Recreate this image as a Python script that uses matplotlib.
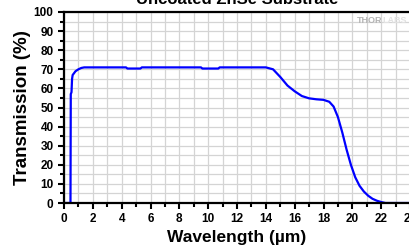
import matplotlib
matplotlib.use('Agg')
import matplotlib.pyplot as plt
from matplotlib.ticker import MultipleLocator

plt.rcParams['font.family'] = ['Liberation Sans', 'DejaVu Sans']

# Transmission of uncoated ZnSe
wavelength = [0, 0.45, 0.47, 0.52, 0.56, 0.6, 0.7, 0.8, 1.0, 1.2, 1.4, 2.0,
              4.3, 4.4, 5.3, 5.4, 9.5, 9.6, 10.7, 10.8, 14.0, 14.5, 15.0,
              15.5, 16.0, 16.5, 17.0, 17.5, 18.0, 18.4, 18.7, 19.0, 19.3,
              19.6, 19.9, 20.2, 20.5, 20.8, 21.1, 21.4, 21.7, 22.0, 22.3, 24.0]
transmission = [0, 0, 57, 58, 65, 67, 68, 69, 70, 70.7, 71, 71,
                71, 70.4, 70.4, 71, 71, 70.4, 70.4, 71, 71, 70, 66,
                61.5, 58.5, 56, 54.8, 54.3, 54, 53, 50.5, 45, 37,
                28, 20, 13.5, 9, 6, 3.8, 2.2, 1.2, 0.5, 0, 0]

fig = plt.figure(figsize=(4.09, 2.48), dpi=100)
ax = fig.add_axes([64 / 409, 45 / 248, 346 / 409, 191 / 248])

ax.plot(wavelength, transmission, color='#0000ff', linewidth=1.6)

ax.set_xlim(0, 24)
ax.set_ylim(0, 100)
ax.xaxis.set_major_locator(MultipleLocator(2))
ax.xaxis.set_minor_locator(MultipleLocator(1))
ax.yaxis.set_major_locator(MultipleLocator(10))
ax.yaxis.set_minor_locator(MultipleLocator(5))
ax.grid(True, which='both', color='#d4d4d4', linewidth=0.9)
ax.set_axisbelow(True)

for side in ['left', 'bottom', 'top']:
    ax.spines[side].set_linewidth(1.6)
ax.spines['right'].set_visible(False)

ax.tick_params(which='major', direction='out', width=1.5, length=4.5, pad=3)
ax.tick_params(which='minor', direction='out', width=1.5, length=3)
for lbl in ax.get_xticklabels() + ax.get_yticklabels():
    lbl.set_fontsize(8.5)
    lbl.set_fontweight('bold')

ax.set_xlabel('Wavelength (µm)', fontsize=12.5, fontweight='bold', labelpad=3)
ax.set_ylabel('Transmission (%)', fontsize=13.5, fontweight='bold', labelpad=2)

fig.text(237 / 409, 1 - 4 / 248, 'Uncoated ZnSe Substrate', ha='center',
         va='baseline', fontsize=12, fontweight='bold')

# faint logo in the corner
ax.text(0.92, 0.957, 'THOR', transform=ax.transAxes, ha='right', va='center',
        fontsize=6.5, fontweight='bold', color='#b4b4b4')
ax.text(0.92, 0.957, 'LABS', transform=ax.transAxes, ha='left', va='center',
        fontsize=6.5, fontweight='bold', color='#e2e2e2')

fig.savefig('out.png', dpi=100)
